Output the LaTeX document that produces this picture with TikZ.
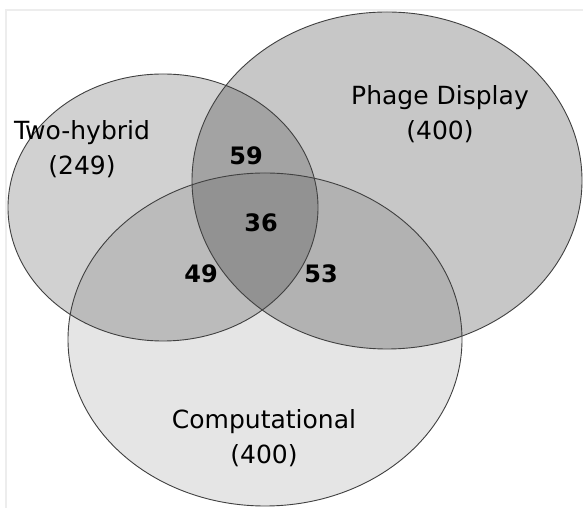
\documentclass[tikz,border=0pt]{standalone}
\usepackage{fontspec}
\setmainfont{DejaVu Sans}
\usetikzlibrary{positioning}

\begin{document}
\begin{tikzpicture}[x=1pt,y=1pt]
\normalsize
% Grey levels
\colorlet{framegrey}{black!7}
\colorlet{rimgrey}{black!75}
\tikzset{
  setfill/.style={fill=black,fill opacity=#1},
  setrim/.style={draw=rimgrey,line width=0.9pt},
  setlabel/.style={font=\fontsize{25}{35}\selectfont,align=center,inner sep=0pt},
  countlabel/.style={font=\fontsize{24}{28}\selectfont\bfseries,inner sep=0pt}
}
% Fix the page to the size of the scan
\useasboundingbox[fill=white] (0,0) rectangle (583,508);
% Light frame at the top and the left
\draw[framegrey,line width=2pt] (6,0) -- (6,498) -- (583,498);
% The three sets, each shading what lies under it
\fill[setfill=0.18] (163,300.5) ellipse [x radius=155,y radius=133.5];
\fill[setfill=0.22] (387,327.5) ellipse [x radius=195,y radius=168.5];
\fill[setfill=0.10] (265,168.5) ellipse [x radius=197,y radius=166.5];
\draw[setrim] (163,300.5) ellipse [x radius=155,y radius=133.5];
\draw[setrim] (387,327.5) ellipse [x radius=195,y radius=168.5];
\draw[setrim] (265,168.5) ellipse [x radius=197,y radius=166.5];
% Set names
\node[setlabel] (twohybrid) at (82,358.5) {Two-hybrid\\(249)};
\node[setlabel] (phage) at (440,393.5) {Phage Display\\(400)};
\node[setlabel] (computational) at (264,69.5) {Computational\\(400)};
% Counts in the overlaps
\node[countlabel] (thpd) at (246,352) {59};
\node[countlabel] (all) at (261,285) {36};
\node[countlabel] (thco) at (201,234) {49};
\node[countlabel] (pdco) at (321,234) {53};
\end{tikzpicture}
\end{document}
